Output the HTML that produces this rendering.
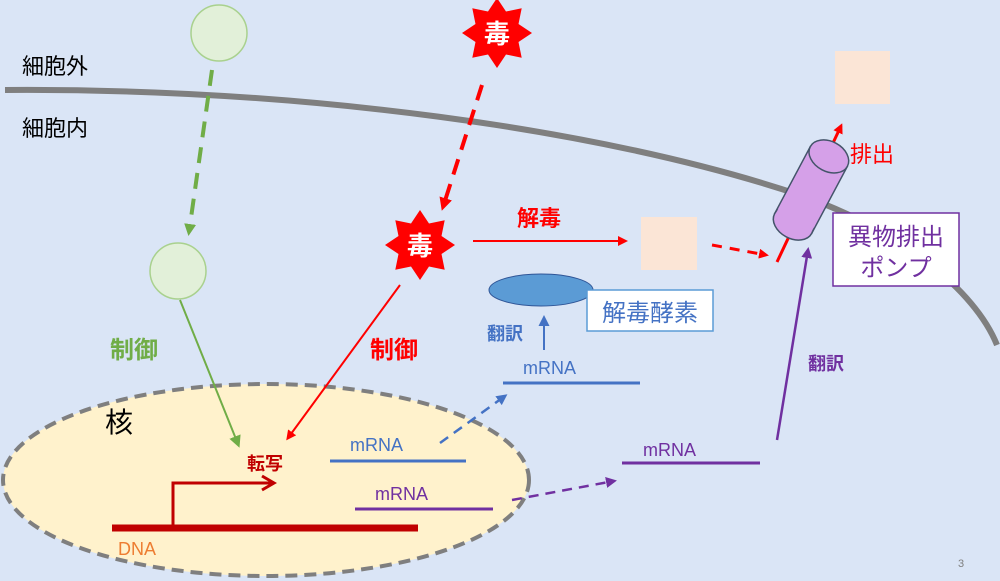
<!DOCTYPE html>
<html><head><meta charset="utf-8"><style>
html,body{margin:0;padding:0;background:#dae5f6;}
svg{display:block;font-family:"Liberation Sans","Noto Sans CJK JP",sans-serif;}
</style></head><body>
<svg width="1000" height="581" viewBox="0 0 1000 581" xmlns="http://www.w3.org/2000/svg">
<defs>
<polygon id="star" points="0,-35 9,-21.5 24.7,-24.7 21.5,-9 35,0 21.5,9 24.7,24.7 9,21.5 0,35 -9,21.5 -24.7,24.7 -21.5,9 -35,0 -21.5,-9 -24.7,-24.7 -9,-21.5"/>
<marker id="ar" markerWidth="10" markerHeight="10" refX="7" refY="5" orient="auto" markerUnits="userSpaceOnUse"><path d="M0,0 L10,5 L0,10 z" fill="red"/></marker>
<marker id="ag" markerWidth="12" markerHeight="12" refX="8" refY="6" orient="auto" markerUnits="userSpaceOnUse"><path d="M0,0 L12,6 L0,12 z" fill="#70ad47"/></marker>
<marker id="ab" markerWidth="11" markerHeight="11" refX="8" refY="5.5" orient="auto" markerUnits="userSpaceOnUse"><path d="M0,0 L11,5.5 L0,11 z" fill="#4472c4"/></marker>
<marker id="ap" markerWidth="11" markerHeight="11" refX="8" refY="5.5" orient="auto" markerUnits="userSpaceOnUse"><path d="M0,0 L11,5.5 L0,11 z" fill="#7030a0"/></marker>
<marker id="ar2" markerWidth="13" markerHeight="13" refX="9" refY="6.5" orient="auto" markerUnits="userSpaceOnUse"><path d="M0,0 L13,6.5 L0,13 z" fill="red"/></marker>
</defs>
<rect width="1000" height="581" fill="#dae5f6"/>
<path d="M5,90 C300,88 600,128 800,195 C900,230 975,290 997,345" fill="none" stroke="#7f7f7f" stroke-width="6"/>
<text x="22" y="74" font-size="22" fill="#000">細胞外</text>
<text x="22" y="136" font-size="22" fill="#000">細胞内</text>
<ellipse cx="266" cy="480" rx="263" ry="96" fill="#fff2cc" stroke="#7f7f7f" stroke-width="4" stroke-dasharray="12,7"/>
<text x="105" y="432" font-size="28" fill="#000">核</text>
<ellipse cx="219" cy="33" rx="28" ry="28" fill="#e2f0d9" stroke="#a9d18e" stroke-width="1.5"/>
<line x1="212" y1="70" x2="189" y2="232" stroke="#70ad47" stroke-width="4" stroke-dasharray="16,10" marker-end="url(#ag)"/>
<ellipse cx="178" cy="271" rx="28" ry="28" fill="#e2f0d9" stroke="#a9d18e" stroke-width="1.5"/>
<line x1="180" y1="300" x2="238" y2="444" stroke="#70ad47" stroke-width="2" marker-end="url(#ag)"/>
<text x="110" y="358" font-size="24" font-weight="bold" fill="#70ad47">制御</text>
<use href="#star" x="497" y="33" fill="red"/>
<text x="497" y="43" font-size="26" font-weight="bold" fill="#fff" text-anchor="middle">毒</text>
<line x1="482" y1="85" x2="443" y2="207" stroke="red" stroke-width="4" stroke-dasharray="16,10" marker-end="url(#ar2)"/>
<use href="#star" x="420" y="245" fill="red"/>
<text x="420" y="255" font-size="26" font-weight="bold" fill="#fff" text-anchor="middle">毒</text>
<line x1="400" y1="285" x2="288" y2="438" stroke="red" stroke-width="2" marker-end="url(#ar)"/>
<text x="370" y="358" font-size="24" font-weight="bold" fill="red">制御</text>
<line x1="473" y1="241" x2="625" y2="241" stroke="red" stroke-width="2" marker-end="url(#ar)"/>
<text x="517" y="226" font-size="22" font-weight="bold" fill="red">解毒</text>
<rect x="641" y="217" width="56" height="53" fill="#fbe5d6"/>
<line x1="712" y1="245" x2="766" y2="255" stroke="red" stroke-width="3" stroke-dasharray="10,8" marker-end="url(#ar)"/>
<rect x="835" y="51" width="55" height="53" fill="#fbe5d6"/>
<line x1="777" y1="262" x2="841" y2="126" stroke="red" stroke-width="3" marker-end="url(#ar)"/>
<g transform="translate(811,190) rotate(28)">
<rect x="-21" y="-38" width="42" height="76" fill="#d5a0e8" stroke="#44546a" stroke-width="1.5"/>
<ellipse cx="0" cy="38" rx="21" ry="15" fill="#d5a0e8" stroke="#44546a" stroke-width="1.5"/>
<rect x="-20" y="-38" width="40" height="76" fill="#d5a0e8"/>
<ellipse cx="0" cy="-38" rx="21" ry="15" fill="#d5a0e8" stroke="#44546a" stroke-width="1.5"/>
</g>
<text x="850" y="162" font-size="22" fill="red">排出</text>
<rect x="833" y="213" width="126" height="73" fill="#fff" stroke="#7030a0" stroke-width="1.5"/>
<text x="896" y="245" font-size="24" fill="#7030a0" text-anchor="middle">異物排出</text>
<text x="896" y="276" font-size="24" fill="#7030a0" text-anchor="middle">ポンプ</text>
<ellipse cx="541" cy="290" rx="52" ry="16" fill="#5b9bd5" stroke="#2f5597" stroke-width="1"/>
<rect x="587" y="290" width="126" height="41" fill="#fff" stroke="#5b9bd5" stroke-width="1.5"/>
<text x="650" y="321" font-size="24" fill="#4472c4" text-anchor="middle">解毒酵素</text>
<line x1="544" y1="350" x2="544" y2="318" stroke="#4472c4" stroke-width="2" marker-end="url(#ab)"/>
<text x="487" y="340" font-size="18" font-weight="bold" fill="#4472c4">翻訳</text>
<text x="523" y="374" font-size="18" fill="#4472c4">mRNA</text>
<line x1="503" y1="383" x2="640" y2="383" stroke="#4472c4" stroke-width="3"/>
<line x1="112" y1="528" x2="418" y2="528" stroke="#c00000" stroke-width="7"/>
<text x="118" y="555" font-size="18" fill="#ed7d31">DNA</text>
<polyline points="173,526 173,483 272,483" fill="none" stroke="#c00000" stroke-width="3"/>
<path d="M262,476 L274,483 L262,490" fill="none" stroke="#c00000" stroke-width="3"/>
<text x="247" y="470" font-size="18" font-weight="bold" fill="#c00000">転写</text>
<text x="350" y="451" font-size="18" fill="#4472c4">mRNA</text>
<line x1="330" y1="461" x2="466" y2="461" stroke="#4472c4" stroke-width="3"/>
<line x1="440" y1="443" x2="505" y2="396" stroke="#4472c4" stroke-width="2.5" stroke-dasharray="10,7" marker-end="url(#ab)"/>
<text x="375" y="500" font-size="18" fill="#7030a0">mRNA</text>
<line x1="355" y1="509" x2="493" y2="509" stroke="#7030a0" stroke-width="3"/>
<line x1="512" y1="500" x2="614" y2="481" stroke="#7030a0" stroke-width="2.5" stroke-dasharray="10,7" marker-end="url(#ap)"/>
<text x="643" y="456" font-size="18" fill="#7030a0">mRNA</text>
<line x1="622" y1="463" x2="760" y2="463" stroke="#7030a0" stroke-width="3"/>
<line x1="777" y1="440" x2="808" y2="250" stroke="#7030a0" stroke-width="2.5" marker-end="url(#ap)"/>
<text x="808" y="370" font-size="18" font-weight="bold" fill="#7030a0">翻訳</text>
<text x="958" y="567" font-size="11" fill="#7f7f7f">3</text>
</svg>
</body></html>
